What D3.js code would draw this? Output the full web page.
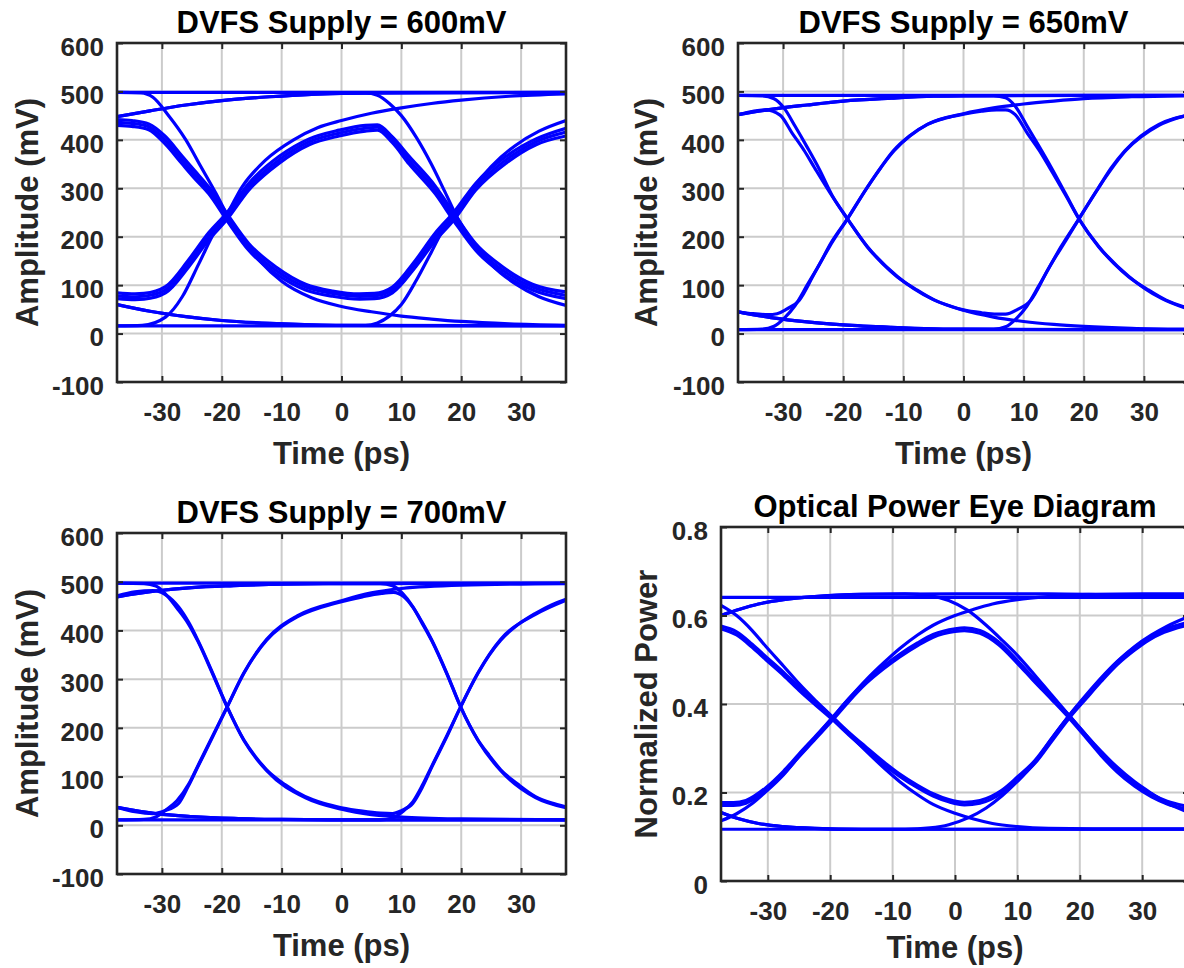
<!DOCTYPE html>
<html>
<head>
<meta charset="utf-8">
<script src="https://cdn.jsdelivr.net/npm/d3@7"></script>
<style>
  body { margin: 0; background: #fff; }
  svg { display: block; font-family: "Liberation Sans", Arial, Helvetica, sans-serif; font-weight: bold; }
</style>
</head>
<body>
<svg id="fig" width="1184" height="968"></svg>
<script>
// ---- axis ticks and labels ----
const timeDomain = [-37.5, 37.5];
const timeTicks = [-30, -20, -10, 0, 10, 20, 30];
const ampDomain = [-100, 600];
const ampTicks = [-100, 0, 100, 200, 300, 400, 500, 600];
const powerDomain = [0, 0.8];
const powerTicks = [0, 0.2, 0.4, 0.6, 0.8];
const titles = ["DVFS Supply = 600mV", "DVFS Supply = 650mV", "DVFS Supply = 700mV", "Optical Power Eye Diagram"];
const xLabel = "Time (ps)";
const ampLabel = "Amplitude (mV)";
const powerLabel = "Normalized Power";

// ---- eye traces: [time ps, value] ----
// 600 mV supply
const eye600 = [
  [[-37.5,498],[37.5,498]],
  [[-37.5,16],[37.5,16]],
  // 1-0-1 bundle
  [[-37.5,442],[-35,440],[-32.2,433],[-29.5,408],[-26.6,366],[-24.5,336],[-22.2,303],[-19.1,247],[-15.5,186],[-11,138],[-6,102],[-1.5,88],[3,82],[5.5,83],[8.5,96],[12.4,152],[15.7,208],[18.8,251],[22.4,310],[27.5,366],[32.5,402],[37.5,424]],
  [[-37.5,436],[-35,434],[-32.2,427],[-29.5,400],[-26.6,358],[-24.5,328],[-22.2,296],[-19.1,240],[-15.5,179],[-11,131],[-6,96],[-1.5,83],[3,77],[5.5,78],[8.5,90],[12.4,145],[15.7,200],[18.8,243],[22.4,303],[27.5,359],[32.5,396],[37.5,416]],
  [[-37.5,430],[-35,428],[-32.2,421],[-29.5,392],[-26.6,350],[-24.5,320],[-22.2,289],[-19.1,233],[-15.5,172],[-11,124],[-6,90],[-1.5,77],[3,71],[5.5,72],[8.5,84],[12.4,138],[15.7,192],[18.8,235],[22.4,296],[27.5,352],[32.5,390],[37.5,408]],
  // 0-1-0 bundle
  [[-37.5,84],[-34.5,82],[-33,83],[-29.4,97],[-25.5,153],[-22.2,208],[-19.1,250],[-15.5,310],[-10.4,366],[-5.4,402],[-0.4,420],[4,430],[6,431],[8.5,406],[11.3,366],[15.7,304],[18.8,248],[22.4,186],[26.9,138],[31.9,102],[37.5,86]],
  [[-37.5,78],[-34.5,76],[-33,77],[-29.4,90],[-25.5,145],[-22.2,200],[-19.1,243],[-15.5,303],[-10.4,359],[-5.4,396],[-0.4,414],[4,424],[6,426],[8.5,400],[11.3,358],[15.7,296],[18.8,240],[22.4,179],[26.9,131],[31.9,96],[37.5,79]],
  [[-37.5,72],[-34.5,70],[-33,71],[-29.4,84],[-25.5,138],[-22.2,193],[-19.1,236],[-15.5,296],[-10.4,352],[-5.4,390],[-0.4,408],[4,418],[6,420],[8.5,394],[11.3,350],[15.7,288],[18.8,232],[22.4,172],[26.9,124],[31.9,90],[37.5,72]],
  // 1-1-0-0 and 0-0-1-1
  [[-37.5,498],[-33.5,497],[-31.5,488],[-29,452],[-26,400],[-23.5,345],[-21,290],[-19,243],[-16.5,195],[-13.5,148],[-10,108],[-5,74],[0,56],[5,45],[10,36],[15,30],[20,25],[28,20],[37.5,17]],
  [[-37.5,16],[-33.3,17],[-29.4,34],[-26.6,76],[-23.8,145],[-21,214],[-19.4,241],[-16.6,303],[-12.7,358],[-8,400],[-4,425],[0,440],[5,455],[10,466],[15,475],[20,482],[28,490],[37.5,495]],
  // settling then switching
  [[-37.5,448],[-32,460],[-26,472],[-20,481],[-12,489],[-5,494],[0,496],[4,497],[6,492],[8,475],[10,450],[12.5,405],[15,350],[17.3,292],[19.2,243],[21.6,195],[25,143],[29,103],[33,76],[37.5,58]],
  [[-37.5,60],[-32,46],[-26,35],[-20,27],[-12,21],[-5,18],[0,17],[4,17],[6,22],[8,36],[10,60],[12.5,110],[15,168],[17.3,222],[19.2,252],[21.8,298],[25,345],[29,388],[33,418],[37.5,440]],
  // settling then holding
  [[-37.5,448],[-32,460],[-26,472],[-20,481],[-12,489],[-5,494],[0,496],[37.5,498]],
  [[-37.5,60],[-32,46],[-26,35],[-20,27],[-12,21],[-5,18],[0,17],[37.5,16]]
];

// 650 mV supply
const eye650 = [
  [[-37.5,492],[37.5,492]],
  [[-37.5,8],[37.5,8]],
  [[-37.5,452],[-35,459],[-32.9,462],[-30.5,451],[-28.5,414],[-26.5,378],[-24.8,343],[-21.7,281],[-19.3,237],[-16,179],[-13.5,145],[-11,117],[-8,92],[-4.8,69],[-2,56],[0,49],[3,43],[5.5,40],[7,40],[9,50],[11.2,69],[13.7,124],[16.2,179],[19.2,237],[22.5,302],[24.5,341],[26.8,377],[29.5,408],[32.5,432],[35,444],[37.5,450]],
  [[-37.5,45],[-35,41],[-32.5,39],[-31,41],[-29.5,50],[-27.3,69],[-24.8,124],[-22.3,179],[-19.3,237],[-16,302],[-13.8,342],[-11.7,377],[-9,408],[-6,432],[-3,445],[0,453],[3,459],[5.5,462],[7,462],[8.6,452],[10.6,414],[12.6,378],[14.3,343],[17.2,281],[19.2,237],[22.5,179],[25,145],[27.5,117],[30.5,92],[33.7,69],[36.5,56],[37.5,53]],
  [[-37.5,492],[-33.5,491],[-31.5,485],[-29.8,465],[-28,428],[-26,385],[-24,340],[-21.7,282],[-19.3,237],[-16,180],[-11,118],[-5,70],[0,48],[5,34],[10,25],[15,19],[20,15],[28,11],[37.5,9]],
  [[-37.5,8],[-33.5,9],[-31.5,15],[-29.8,32],[-28,58],[-26,100],[-24,142],[-22,188],[-19.3,237],[-16,302],[-11.5,378],[-6,432],[0,454],[5,466],[10,474],[15,480],[20,485],[28,489],[37.5,491]],
  [[-37.5,452],[-32,463],[-26,472],[-20,480],[-12,486],[-5,490],[0,491],[5,491],[7,487],[8.7,468],[10.5,430],[12.5,388],[14.5,345],[17,288],[19.2,237],[22.5,180],[27.5,118],[33,72],[37.5,50]],
  [[-37.5,45],[-32,33],[-26,24],[-20,18],[-12,13],[-5,10],[0,9],[5,9],[7,14],[8.7,30],[10.5,56],[12.5,98],[14.5,142],[17,192],[19.2,237],[22.5,302],[27,378],[32.5,430],[37.5,452]],
  [[-37.5,452],[-32,463],[-26,472],[-20,480],[-12,486],[-5,490],[0,491],[37.5,492]],
  [[-37.5,45],[-32,33],[-26,24],[-20,18],[-12,13],[-5,10],[0,9],[37.5,8]]
];

// 700 mV supply
const eye700 = [
  [[-37.5,497],[37.5,497]],
  [[-37.5,11],[37.5,11]],
  [[-37.5,471],[-34.5,479],[-31.5,482],[-29.5,474],[-27.2,448],[-25.5,416],[-24,380],[-21.5,312],[-19.1,243],[-16.3,175],[-14.5,143],[-12.5,114],[-9.5,84],[-6.1,59],[-3,45],[0,36],[3.5,29],[6.5,25],[8.5,24],[10,30],[11.9,45],[13.5,78],[15.1,120],[17.6,182],[19.9,243],[22.8,312],[24.7,350],[26.6,380],[29.5,412],[32.4,435],[35,452],[37.5,464]],
  [[-37.5,37],[-34.5,28],[-31.5,24],[-29.5,30],[-27.2,45],[-25.6,80],[-24,120],[-21.5,182],[-19.1,243],[-16.3,312],[-14.4,350],[-12.5,380],[-10,408],[-7.4,428],[-3.5,447],[0,459],[3.5,469],[6.7,476],[8.7,478],[10.3,470],[11.9,448],[13.5,416],[15.1,380],[17.6,312],[19.9,243],[22.8,175],[24.7,143],[26.6,114],[29.5,84],[32.4,59],[35,46],[37.5,38]],
  [[-37.5,497],[-33,496],[-31,491],[-29.5,476],[-27.5,446],[-25.5,412],[-24,378],[-21.5,310],[-19.1,243],[-16.3,174],[-12.5,112],[-6.1,57],[0,33],[5,22],[10,17],[20,13],[37.5,11]],
  [[-37.5,11],[-33,12],[-31,17],[-29.5,30],[-27.5,50],[-25.5,85],[-24,122],[-21.5,184],[-19.1,243],[-16.3,313],[-12.5,382],[-7.4,430],[0,461],[5,477],[10,486],[20,493],[37.5,496]],
  [[-37.5,469],[-31,481],[-25,488],[-18,492],[-10,495],[0,496],[6.5,496],[8.5,492],[10.2,476],[11.9,449],[13.5,414],[15.1,378],[17.6,311],[19.9,243],[22.8,174],[26.6,112],[32.4,57],[37.5,36]],
  [[-37.5,37],[-31,24],[-25,18],[-18,14],[-10,12],[0,11],[6.5,11],[8.5,15],[10.2,28],[11.9,48],[13.5,82],[15.1,122],[17.6,184],[19.9,243],[22.8,313],[26.6,382],[32.4,433],[37.5,462]],
  [[-37.5,469],[-31,481],[-25,488],[-18,492],[-10,495],[0,496],[37.5,497]],
  [[-37.5,37],[-31,24],[-25,18],[-18,14],[-10,12],[0,11],[37.5,11]]
];

// optical output power
const eyeOptical = [
  [[-37.5,0.641],[37.5,0.641]],
  [[-37.5,0.117],[37.5,0.117]],
  [[-37.5,0.576],[-35,0.563],[-32.5,0.535],[-30.3,0.507],[-27.5,0.472],[-25,0.438],[-22.3,0.404],[-19.6,0.370],[-17,0.336],[-14.2,0.302],[-11.5,0.270],[-8.8,0.241],[-6,0.216],[-3.5,0.197],[-1,0.184],[1.5,0.178],[4,0.182],[7.5,0.205],[10,0.235],[12.8,0.272],[15.5,0.322],[18.3,0.374],[21,0.418],[23.5,0.458],[26,0.495],[28.8,0.528],[31,0.550],[33.5,0.568],[37.5,0.585]],
  [[-37.5,0.570],[-35,0.556],[-32.5,0.528],[-30.3,0.500],[-27.5,0.465],[-25,0.431],[-22.3,0.397],[-19.6,0.364],[-17,0.330],[-14.2,0.296],[-11.5,0.264],[-8.8,0.236],[-6,0.211],[-3.5,0.192],[-1,0.179],[1.5,0.172],[4,0.176],[7.5,0.199],[10,0.229],[12.8,0.266],[15.5,0.316],[18.3,0.368],[21,0.412],[23.5,0.452],[26,0.489],[28.8,0.522],[31,0.544],[33.5,0.562],[37.5,0.579]],
  [[-37.5,0.177],[-35.5,0.177],[-33.5,0.182],[-30.3,0.211],[-27.5,0.248],[-25,0.287],[-22.3,0.328],[-19.6,0.370],[-17,0.412],[-14.2,0.453],[-11.5,0.485],[-8.8,0.513],[-6,0.538],[-3.5,0.557],[0,0.570],[1.5,0.572],[4,0.566],[7,0.540],[10,0.498],[12.5,0.460],[15.5,0.416],[18.3,0.374],[21,0.330],[23.4,0.290],[26,0.252],[28.8,0.220],[31.5,0.196],[34,0.180],[37.5,0.168]],
  [[-37.5,0.171],[-35.5,0.171],[-33.5,0.176],[-30.3,0.205],[-27.5,0.242],[-25,0.281],[-22.3,0.322],[-19.6,0.364],[-17,0.406],[-14.2,0.447],[-11.5,0.479],[-8.8,0.507],[-6,0.532],[-3.5,0.551],[0,0.564],[1.5,0.566],[4,0.560],[7,0.534],[10,0.492],[12.5,0.454],[15.5,0.410],[18.3,0.368],[21,0.324],[23.4,0.284],[26,0.246],[28.8,0.214],[31.5,0.190],[34,0.174],[37.5,0.162]],
  [[-37.5,0.623],[-35,0.600],[-32.5,0.566],[-30.3,0.530],[-27.5,0.486],[-25,0.446],[-22.3,0.407],[-19.6,0.370],[-17,0.332],[-14.2,0.293],[-11.5,0.257],[-8.8,0.224],[-6,0.195],[-3.5,0.173],[0,0.153],[3,0.140],[6,0.130],[10,0.123],[15,0.119],[22,0.118],[37.5,0.118]],
  [[-37.5,0.136],[-35,0.152],[-32.5,0.175],[-30.3,0.202],[-27.5,0.240],[-25,0.282],[-22.3,0.326],[-19.6,0.370],[-17,0.412],[-14.2,0.455],[-11.5,0.492],[-8.8,0.526],[-6,0.556],[-3.5,0.578],[0,0.600],[3,0.614],[6,0.626],[10,0.636],[15,0.643],[22,0.648],[30,0.649],[37.5,0.649]],
  [[-37.5,0.600],[-34.5,0.614],[-31.5,0.626],[-27.5,0.636],[-22.5,0.643],[-15,0.648],[-8,0.649],[-4,0.645],[-1,0.634],[2,0.612],[5,0.578],[7.5,0.545],[10,0.510],[12.8,0.465],[15.5,0.420],[18.3,0.374],[21,0.330],[23.5,0.292],[26,0.257],[28.8,0.224],[31.5,0.198],[34,0.176],[37.5,0.155]],
  [[-37.5,0.155],[-34.5,0.140],[-31.5,0.130],[-27.5,0.123],[-22.5,0.119],[-15,0.117],[-8,0.117],[-4,0.120],[-1,0.127],[2,0.142],[5,0.165],[7.5,0.192],[10,0.225],[12.8,0.268],[15.5,0.322],[18.3,0.374],[21,0.420],[23.5,0.460],[26,0.496],[28.8,0.530],[31.5,0.556],[34,0.576],[37.5,0.598]],
  [[-37.5,0.600],[-34.5,0.614],[-31.5,0.626],[-27.5,0.636],[-22.5,0.643],[-15,0.648],[0,0.649],[15,0.649],[25,0.647],[37.5,0.645]],
  [[-37.5,0.155],[-34.5,0.140],[-31.5,0.130],[-27.5,0.123],[-22.5,0.119],[-15,0.117],[37.5,0.117]]
];

// ---- layout ----
const INK = "#262626";
const panels = [
  { title: titles[0], traces: eye600, yDomain: ampDomain, yTicks: ampTicks, yLabel: ampLabel,
    box: { left: 117, right: 566, top: 43, bottom: 382 }, yLabelX: 27, xLabelDy: 82 },
  { title: titles[1], traces: eye650, yDomain: ampDomain, yTicks: ampTicks, yLabel: ampLabel,
    box: { left: 738, right: 1189, top: 43, bottom: 382 }, yLabelX: 646, xLabelDy: 82 },
  { title: titles[2], traces: eye700, yDomain: ampDomain, yTicks: ampTicks, yLabel: ampLabel,
    box: { left: 117, right: 566, top: 533, bottom: 874 }, yLabelX: 27, xLabelDy: 82 },
  { title: titles[3], traces: eyeOptical, yDomain: powerDomain, yTicks: powerTicks, yLabel: powerLabel,
    box: { left: 721, right: 1189, top: 527, bottom: 881 }, yLabelX: 646, xLabelDy: 77,
    yFormat: d => d === 0 ? "0" : d.toFixed(1) }
];

const svg = d3.select("#fig");
svg.append("rect").attr("width", 1184).attr("height", 968).attr("fill", "#fff");

panels.forEach((p, i) => {
  const b = p.box;
  const x = d3.scaleLinear().domain(timeDomain).range([b.left, b.right]);
  const y = d3.scaleLinear().domain(p.yDomain).range([b.bottom, b.top]);
  const g = svg.append("g");

  // grid
  const grid = g.append("g").attr("stroke", "#cbcbcb").attr("stroke-width", 2);
  grid.selectAll("line.gx").data(timeTicks).join("line")
    .attr("x1", d => x(d)).attr("x2", d => x(d))
    .attr("y1", b.top).attr("y2", b.bottom);
  grid.selectAll("line.gy").data(p.yTicks).join("line")
    .attr("x1", b.left).attr("x2", b.right)
    .attr("y1", d => y(d)).attr("y2", d => y(d));

  // traces
  const clipId = "clip" + i;
  g.append("clipPath").attr("id", clipId).append("rect")
    .attr("x", b.left).attr("y", b.top)
    .attr("width", b.right - b.left).attr("height", b.bottom - b.top);
  const line = d3.line().x(d => x(d[0])).y(d => y(d[1])).curve(d3.curveMonotoneX);
  g.append("g").attr("clip-path", `url(#${clipId})`)
    .selectAll("path").data(p.traces).join("path")
    .attr("d", line)
    .attr("fill", "none")
    .attr("stroke", "#0000ff")
    .attr("stroke-width", 3.2)
    .attr("stroke-linejoin", "round")
    .attr("stroke-linecap", "round");

  // axes with inward ticks on all sides
  const fmtX = d => String(d);
  const fmtY = p.yFormat || (d => String(d));
  const axB = g.append("g").attr("transform", `translate(0,${b.bottom})`)
    .call(d3.axisBottom(x).tickValues(timeTicks).tickFormat(fmtX).tickSizeInner(-6).tickSizeOuter(0).tickPadding(21));
  const axT = g.append("g").attr("transform", `translate(0,${b.top})`)
    .call(d3.axisTop(x).tickValues(timeTicks).tickFormat("").tickSizeInner(-6).tickSizeOuter(0));
  const axL = g.append("g").attr("transform", `translate(${b.left},0)`)
    .call(d3.axisLeft(y).tickValues(p.yTicks).tickFormat(fmtY).tickSizeInner(-6).tickSizeOuter(0).tickPadding(13));
  const axR = g.append("g").attr("transform", `translate(${b.right},0)`)
    .call(d3.axisRight(y).tickValues(p.yTicks).tickFormat("").tickSizeInner(-6).tickSizeOuter(0));
  [axB, axT, axL, axR].forEach(a => {
    a.select(".domain").remove();
    a.selectAll(".tick line").attr("stroke", INK).attr("stroke-width", 2);
    a.selectAll("text").attr("fill", INK).attr("font-size", 26)
      .attr("font-family", "Liberation Sans, Arial, sans-serif").attr("font-weight", "bold");
  });
  axL.selectAll("text").attr("dy", "0.47em");

  // frame
  g.append("rect")
    .attr("x", b.left).attr("y", b.top)
    .attr("width", b.right - b.left).attr("height", b.bottom - b.top)
    .attr("fill", "none").attr("stroke", INK).attr("stroke-width", 2.6);

  // labels
  const cx = (b.left + b.right) / 2;
  g.append("text").attr("x", cx).attr("y", b.top - 10)
    .attr("text-anchor", "middle").attr("font-size", 31).attr("fill", "#000")
    .text(p.title);
  g.append("text").attr("x", cx).attr("y", b.bottom + p.xLabelDy)
    .attr("text-anchor", "middle").attr("font-size", 31).attr("fill", INK)
    .text(xLabel);
  g.append("text")
    .attr("transform", `translate(${p.yLabelX},${(b.top + b.bottom) / 2}) rotate(-90)`)
    .attr("text-anchor", "middle").attr("dy", "0.36em")
    .attr("font-size", 31).attr("fill", INK)
    .text(p.yLabel);
});
</script>
</body>
</html>
